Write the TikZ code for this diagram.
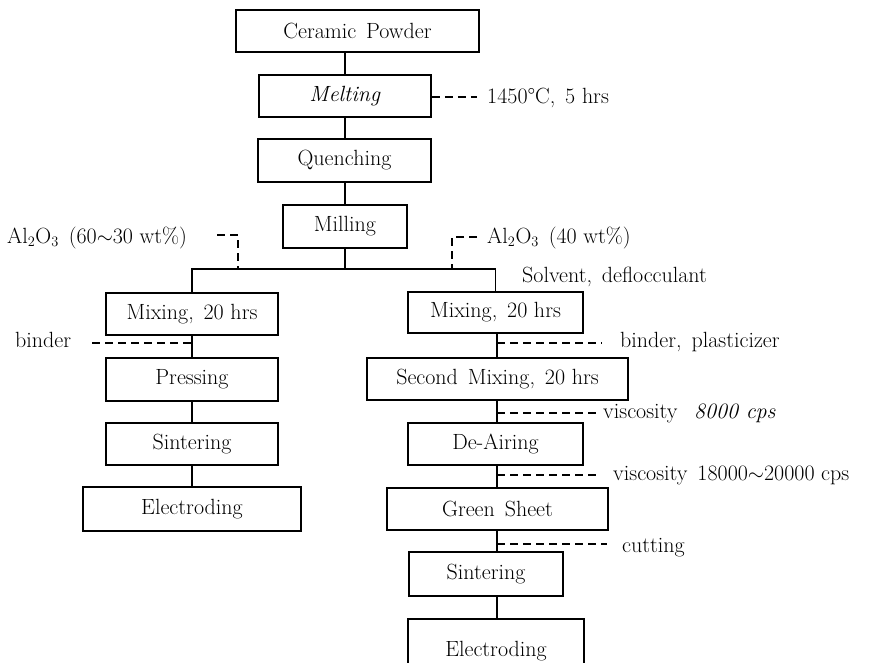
\documentclass[tikz,border=0pt]{standalone}
\newcommand{\sgap}{\hspace{0.45em}}
\begin{document}
\begin{tikzpicture}[x=1pt,y=-1pt,
  every node/.style={font=\fontsize{22}{26}\selectfont},
  stepbox/.style={draw, line width=1.8pt, inner sep=0pt, align=center},
  link/.style={line width=1.8pt},
  side/.style={line width=1.8pt, dash pattern=on 8pt off 5pt},
  note/.style={anchor=base west, inner sep=0pt}]
\useasboundingbox (0,0) rectangle (880,662);

% main column
\node[stepbox, minimum width=243pt, minimum height=42pt] (cp) at (357.5,31) {Ceramic\sgap Powder};
\node[stepbox, minimum width=172pt, minimum height=42pt] (melt) at (345,96) {\textit{Melting}};
\node[stepbox, minimum width=173pt, minimum height=43pt] (quench) at (344.5,160.5) {Quenching};
\node[stepbox, minimum width=124pt, minimum height=43pt] (mill) at (345,226.5) {Milling};

% left column
\node[stepbox, minimum width=172pt, minimum height=42pt] (lmix) at (192,314) {Mixing,\sgap 20 hrs};
\node[stepbox, minimum width=172pt, minimum height=43pt] (press) at (192,379.5) {Pressing};
\node[stepbox, minimum width=172pt, minimum height=42pt] (lsint) at (192,444) {Sintering};
\node[stepbox, minimum width=218pt, minimum height=44pt] (lelec) at (192,509) {Electroding};

% right column
\node[stepbox, minimum width=175pt, minimum height=41pt] (rmix) at (495.5,312.5) {Mixing,\sgap 20 hrs};
\node[stepbox, minimum width=261pt, minimum height=42pt] (smix) at (497.5,379) {Second\sgap Mixing,\sgap 20 hrs};
\node[stepbox, minimum width=175pt, minimum height=42pt] (deair) at (495.5,444) {De-Airing};
\node[stepbox, minimum width=221pt, minimum height=42pt] (green) at (497.5,509) {Green\sgap Sheet};
\node[stepbox, minimum width=154pt, minimum height=44pt] (rsint) at (486,574) {Sintering};
\node[stepbox, minimum width=176pt, minimum height=65pt] (relec) at (496,651.5) {Electroding};

% main connectors
\draw[link] (melt.north |- cp.south) -- (melt.north);
\draw[link] (melt.south) -- (melt.south |- quench.north);
\draw[link] (quench.south -| mill.north) -- (mill.north);
\coordinate (split) at (345,269);
\draw[link] (mill.south) -- (split);
\draw[link] (lmix.north) |- (split) -| (rmix.north);

% left connectors
\draw[link] (lmix.south) -- (press.north);
\draw[link] (press.south) -- (lsint.north);
\draw[link] (lsint.south) -- (lelec.north);

% right connectors
\draw[link] (rmix.south -| 497,0) -- (smix.north -| 497,0);
\draw[link] (smix.south -| 497,0) -- (deair.north -| 497,0);
\draw[link] (deair.south -| 497,0) -- (green.north -| 497,0);
\draw[link] (green.south -| 497,0) -- (rsint.north -| 497,0);
\draw[link] (rsint.south -| 497,0) -- (relec.north -| 497,0);

% side notes
\node[note] (t1) at (487,103) {1450\textdegree C,\sgap 5 hrs};
\coordinate (d1) at (477,97);
\draw[side] (melt.east |- d1) -- (d1);

\node[note] (t2) at (7,243) {Al$_2$O$_3$\sgap (60$\sim$30 wt\%)};
\coordinate (d2a) at (217,235);
\coordinate (d2b) at (238,235);
\draw[side] (d2a) -- (d2b) -- (d2b |- split);

\node[note] (t3) at (487,243) {Al$_2$O$_3$\sgap (40 wt\%)};
\coordinate (d3a) at (477,237);
\coordinate (d3b) at (452,237);
\draw[side] (d3a) -- (d3b) -- (d3b |- split);

\node[note] (t4) at (522,282) {Solvent,\sgap deflocculant};

\node[note] (t5) at (15,347) {binder};
\coordinate (d5) at (92,343);
\draw[side] (d5) -- (d5 -| lmix.south);

\node[note] (t6) at (620,347) {binder,\sgap plasticizer};
\coordinate (d6a) at (497,343);
\coordinate (d6b) at (602,343);
\draw[side] (d6a) -- (d6b);

\node[note] (t7) at (603,418) {viscosity\sgap\ \textit{8000 cps}};
\coordinate (d7a) at (497,413);
\coordinate (d7b) at (598,413);
\draw[side] (d7a) -- (d7b);

\node[note] (t8) at (613,480) {viscosity\sgap 18000$\sim$20000 cps};
\coordinate (d8a) at (497,475);
\coordinate (d8b) at (600,475);
\draw[side] (d8a) -- (d8b);

\node[note] (t9) at (622,552) {cutting};
\coordinate (d9a) at (497,544);
\coordinate (d9b) at (607,544);
\draw[side] (d9a) -- (d9b);
\end{tikzpicture}
\end{document}
